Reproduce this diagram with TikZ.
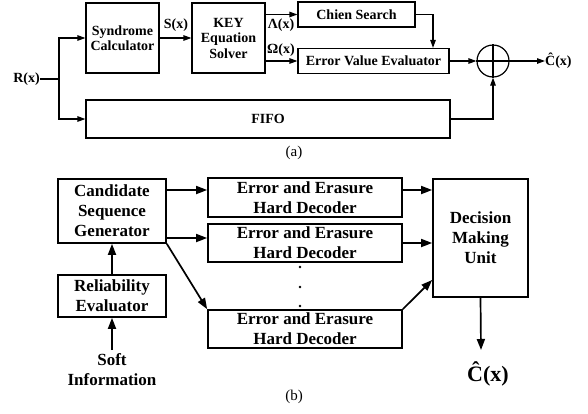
\documentclass[tikz,border=0pt]{standalone}
\usepackage{fontspec}
\setmainfont{Liberation Serif}
\usetikzlibrary{arrows.meta}
\tikzset{
  sm/.style={font=\bfseries\fontsize{14}{15.5}\selectfont},
  lg/.style={font=\bfseries\fontsize{17}{20}\selectfont},
  blka/.style={draw, line width=1.2pt, inner sep=0pt, align=center, sm},
  blkb/.style={draw, line width=1.7pt, inner sep=0pt, align=center, lg},
  arra/.style={line width=1.2pt, -{Triangle[length=8pt,width=5.5pt]}},
  arrb/.style={line width=1.7pt, -{Triangle[length=11pt,width=8pt]}},
  lbl/.style={inner sep=0pt, sm},
  captag/.style={inner sep=0pt, font=\fontsize{15}{17}\selectfont}
}
\begin{document}
\begin{tikzpicture}[x=1pt,y=-1pt]
\useasboundingbox (0,0) rectangle (588,413);

% ---- (a) conventional hard-decision decoder ----
\node[blka, minimum width=73pt, minimum height=70pt] (syn) at (122.5,38) {Syndrome\\Calculator};
\node[blka, minimum width=73pt, minimum height=70pt] (key) at (228.5,38) {KEY\\Equation\\Solver};
\node[blka, minimum width=117pt, minimum height=25pt] (chien) at (356.5,14.5) {Chien Search};
\node[blka, minimum width=151pt, minimum height=25pt] (eve) at (373.5,61) {Error Value Evaluator};
\node[blka, minimum width=364pt, minimum height=38pt] (fifo) at (268,119) {FIFO};
\node[draw, circle, line width=1.2pt, minimum size=32pt, inner sep=0pt] (xor) at (493,61) {};
\draw[line width=1.2pt] (xor.north) -- (xor.south) (xor.west) -- (xor.east);

\node[lbl, anchor=east] (rx) at (40,79) {R(x)};
\coordinate (jn) at (59,79);
\draw[line width=1.2pt] (rx.east) -- (jn);
\draw[arra] (jn) |- (syn.west);
\draw[arra] (jn) |- (fifo.west);

\draw[arra] (syn.east) -- (key.west);
\node[lbl] (sx) at (176,25) {S(x)};
\draw[arra] (key.east |- chien.west) -- (chien.west);
\node[lbl] (lx) at (281,25) {Λ(x)};
\draw[arra] (key.east |- eve.west) -- (eve.west);
\node[lbl] (ox) at (281,50) {Ω(x)};
\coordinate (drop) at (433,61);
\draw[arra] (chien.east) -| (drop |- eve.north);
\draw[arra] (eve.east) -- (xor.west);
\draw[arra] (fifo.east) -| (xor.south);
\node[lbl, anchor=west] (ca) at (545,61) {\^{C}(x)};
\draw[arra] (xor.east) -- (ca.west);

\node[captag] (tagA) at (294,153) {(a)};

% ---- (b) soft-decision decoder ----
\node[blkb, minimum width=108pt, minimum height=64pt] (cand) at (112,211) {Candidate\\Sequence\\Generator};
\node[blkb, minimum width=108pt, minimum height=42pt] (rel) at (112,296) {Reliability\\Evaluator};
\node[inner sep=0pt, align=center, lg] (soft) at (112,370) {Soft\\Information};
\node[blkb, minimum width=194pt, minimum height=39pt] (dec1) at (305,197.5) {Error and Erasure\\Hard Decoder};
\node[blkb, minimum width=194pt, minimum height=38pt] (dec2) at (305,243) {Error and Erasure\\Hard Decoder};
\node[blkb, minimum width=194pt, minimum height=38pt] (dec3) at (305,329) {Error and Erasure\\Hard Decoder};
\node[blkb, minimum width=95pt, minimum height=118pt] (dmu) at (480.5,238) {Decision\\Making\\Unit};
\node[inner sep=0pt, anchor=west, font=\bfseries\fontsize{22}{24}\selectfont] (cb) at (467,374) {\^{C}(x)};

\foreach \yy in {267,287,306}
  \fill (300,\yy) circle (1.4pt);

\coordinate (sft) at (112,350);
\coordinate (r1) at (0,190);
\coordinate (r2) at (0,238);
\coordinate (r3) at (0,280);
\coordinate (cout) at (481,350);
\draw[arrb] (sft) -- (rel.south);
\draw[arrb] (rel.north) -- (cand.south);
\draw[arrb] (cand.east |- r1) -- (dec1.west |- r1);
\draw[arrb] (cand.east |- r2) -- (dec2.west |- r2);
\draw[arrb] (cand.south east) -- (dec3.north west);
\draw[arrb] (dec1.east |- r1) -- (dmu.west |- r1);
\draw[arrb] (dec2.east) -- (dmu.west |- dec2.east);
\draw[arrb] (dec3.north east) -- (dmu.west |- r3);
\draw[arrb] (dmu.south) -- (cout);

\node[captag] (tagB) at (294,397) {(b)};
\end{tikzpicture}
\end{document}
